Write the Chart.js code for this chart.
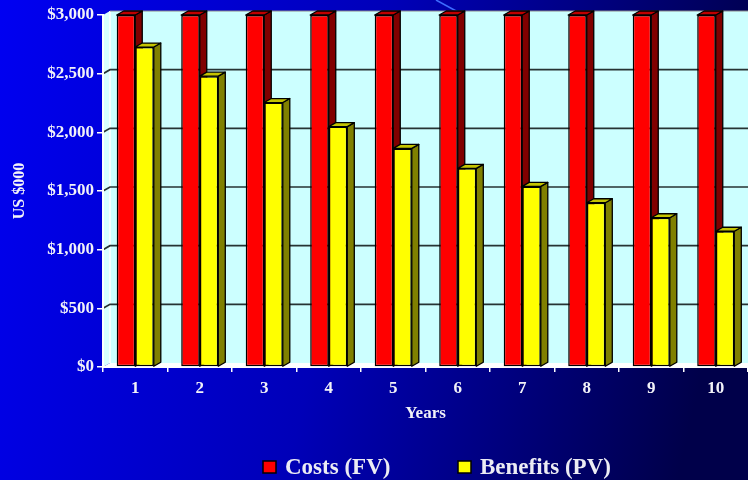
<!DOCTYPE html>
<html>
<head>
<meta charset="utf-8">
<script src="https://cdn.jsdelivr.net/npm/chart.js@4/dist/chart.umd.min.js"></script>
<style>
  html, body { margin: 0; padding: 0; overflow: hidden; background: #0000e0; }
  #wrap { width: 748px; height: 480px; }
  canvas { display: block; }
</style>
</head>
<body>
<div id="wrap"><canvas id="c" width="748" height="480"></canvas></div>
<script>
// Year index on the category axis
const years = ['1', '2', '3', '4', '5', '6', '7', '8', '9', '10'];
// Costs, future value (US $000)
const costsFV = [3000, 3000, 3000, 3000, 3000, 3000, 3000, 3000, 3000, 3000];
// Benefits, present value (US $000)
const benefitsPV = [2727, 2479, 2254, 2049, 1863, 1693, 1539, 1400, 1272, 1157];
// Value axis ticks
const yTickValues = [0, 500, 1000, 1500, 2000, 2500, 3000];
const seriesNames = ['Costs (FV)', 'Benefits (PV)'];
const xTitle = 'Years';
const yTitle = 'US $000';

const SERIF = '"Liberation Serif", "Times New Roman", serif';
const DEPTH_X = 7;     // 3D depth offset, px to the right
const DEPTH_Y = -4;    // 3D depth offset, px upward
const faceShades = [
  { side: '#800000', top: '#bf0000' },
  { side: '#808000', top: '#c4c400' }
];

// Slide background, back wall, side wall, floor and wall gridlines
const stagePlugin = {
  id: 'stage',
  beforeDraw(chart) {
    const { ctx, chartArea: a, scales } = chart;
    const W = chart.width, H = chart.height;
    ctx.save();
    const g = ctx.createLinearGradient(0, 0, W, H * 0.35);
    g.addColorStop(0, '#0000f2');
    g.addColorStop(0.5, '#0000b8');
    g.addColorStop(1, '#00004a');
    ctx.fillStyle = g;
    ctx.fillRect(0, 0, W, H);

    // thin decorative streak across the top
    ctx.strokeStyle = '#3d6cff';
    ctx.lineWidth = 1.5;
    ctx.beginPath();
    ctx.moveTo(436, 0);
    ctx.lineTo(458, 12);
    ctx.stroke();

    const L = a.left, R = a.right, T = a.top, B = a.bottom;
    // back wall
    ctx.fillStyle = '#ccffff';
    ctx.fillRect(L + DEPTH_X, T + DEPTH_Y, R - L, B - T);
    // left side wall
    ctx.fillStyle = '#d9ffff';
    ctx.beginPath();
    ctx.moveTo(L, T);
    ctx.lineTo(L + DEPTH_X, T + DEPTH_Y);
    ctx.lineTo(L + DEPTH_X, B + DEPTH_Y);
    ctx.lineTo(L, B);
    ctx.closePath();
    ctx.fill();
    ctx.strokeStyle = '#ffffff';
    ctx.lineWidth = 1.5;
    ctx.beginPath();
    ctx.moveTo(L + DEPTH_X, T + DEPTH_Y);
    ctx.lineTo(L + DEPTH_X, B + DEPTH_Y);
    ctx.stroke();
    // floor
    ctx.fillStyle = '#ffffff';
    ctx.beginPath();
    ctx.moveTo(L, B);
    ctx.lineTo(L + DEPTH_X, B + DEPTH_Y);
    ctx.lineTo(R + DEPTH_X, B + DEPTH_Y);
    ctx.lineTo(R, B);
    ctx.closePath();
    ctx.fill();
    // top edge of the back wall
    ctx.strokeStyle = '#8a8a8a';
    ctx.lineWidth = 1.2;
    ctx.beginPath();
    ctx.moveTo(L + DEPTH_X, T + DEPTH_Y);
    ctx.lineTo(R + DEPTH_X, T + DEPTH_Y);
    ctx.stroke();
    // gridlines on the back wall, with their slant across the side wall
    const ys = scales.y;
    ctx.strokeStyle = '#263333';
    ctx.lineWidth = 1.7;
    yTickValues.forEach(v => {
      if (v <= ys.min || v >= ys.max) return;
      const py = ys.getPixelForValue(v);
      ctx.beginPath();
      ctx.moveTo(L, py);
      ctx.lineTo(L + DEPTH_X, py + DEPTH_Y);
      ctx.lineTo(R + DEPTH_X, py + DEPTH_Y);
      ctx.stroke();
    });
    ctx.restore();
  }
};

// Side and top faces that give each bar its depth
const depthPlugin = {
  id: 'depth',
  beforeDatasetsDraw(chart) {
    const { ctx } = chart;
    ctx.save();
    ctx.strokeStyle = '#000000';
    ctx.lineWidth = 1.3;
    ctx.lineJoin = 'round';
    chart.data.datasets.forEach((ds, i) => {
      const meta = chart.getDatasetMeta(i);
      if (meta.hidden) return;
      const shade = faceShades[i];
      meta.data.forEach(bar => {
        const { x, y, base, width } = bar.getProps(['x', 'y', 'base', 'width'], true);
        const l = x - width / 2, r = x + width / 2;
        // side face
        ctx.fillStyle = shade.side;
        ctx.beginPath();
        ctx.moveTo(r, y);
        ctx.lineTo(r + DEPTH_X, y + DEPTH_Y);
        ctx.lineTo(r + DEPTH_X, base + DEPTH_Y);
        ctx.lineTo(r, base);
        ctx.closePath();
        ctx.fill();
        ctx.stroke();
        // top face
        ctx.fillStyle = shade.top;
        ctx.beginPath();
        ctx.moveTo(l, y);
        ctx.lineTo(l + DEPTH_X, y + DEPTH_Y);
        ctx.lineTo(r + DEPTH_X, y + DEPTH_Y);
        ctx.lineTo(r, y);
        ctx.closePath();
        ctx.fill();
        ctx.stroke();
      });
    });
    ctx.restore();
  }
};

// Axis titles and the legend row
const labelsPlugin = {
  id: 'labels',
  afterDraw(chart) {
    const { ctx, chartArea: a } = chart;
    ctx.save();
    ctx.fillStyle = '#f2f2f8';
    ctx.textAlign = 'center';
    ctx.textBaseline = 'middle';
    ctx.font = 'bold 17px ' + SERIF;
    ctx.fillText(xTitle, (a.left + a.right) / 2, 414);

    ctx.save();
    ctx.translate(20, 191);
    ctx.rotate(-Math.PI / 2);
    ctx.font = 'bold 16px ' + SERIF;
    ctx.fillText(yTitle, 0, 0);
    ctx.restore();

    // legend
    const itemX = [263, 458];
    ctx.font = 'bold 23px ' + SERIF;
    ctx.textAlign = 'left';
    chart.data.datasets.forEach((ds, i) => {
      const bx = itemX[i];
      ctx.fillStyle = ds.backgroundColor;
      ctx.fillRect(bx, 461, 13, 12);
      ctx.strokeStyle = '#000000';
      ctx.lineWidth = 1.5;
      ctx.strokeRect(bx, 461, 13, 12);
      ctx.fillStyle = '#ececf4';
      ctx.fillText(ds.label, bx + 22, 468);
    });
    ctx.restore();
  }
};

new Chart(document.getElementById('c'), {
  type: 'bar',
  data: {
    labels: years,
    datasets: [
      {
        label: seriesNames[0],
        data: costsFV,
        backgroundColor: '#ff0000',
        borderColor: '#000000',
        borderWidth: 1.5,
        borderSkipped: false
      },
      {
        label: seriesNames[1],
        data: benefitsPV,
        backgroundColor: '#ffff00',
        borderColor: '#000000',
        borderWidth: 1.5,
        borderSkipped: false
      }
    ]
  },
  options: {
    responsive: false,
    animation: false,
    devicePixelRatio: 1,
    categoryPercentage: 0.575,
    barPercentage: 1,
    layout: { padding: { top: 15, right: -2, bottom: 0, left: 0 } },
    plugins: {
      legend: { display: false },
      tooltip: { enabled: false }
    },
    scales: {
      x: {
        afterFit(scale) { scale.height = 113; },
        grid: {
          offset: true,
          drawOnChartArea: false,
          drawTicks: true,
          tickLength: 5,
          color: '#ffffff',
          lineWidth: 1.5
        },
        border: { display: true, color: '#ffffff', width: 2 },
        ticks: {
          color: '#f2f2f8',
          padding: 6,
          font: { family: SERIF, size: 17, weight: 'bold' }
        }
      },
      y: {
        min: 0,
        max: 3000,
        afterFit(scale) { scale.width = 103; },
        afterBuildTicks(scale) { scale.ticks = yTickValues.map(v => ({ value: v })); },
        grid: {
          drawOnChartArea: false,
          drawTicks: true,
          tickLength: 6,
          color: '#ffffff',
          lineWidth: 1.5
        },
        border: { display: true, color: '#ffffff', width: 2 },
        ticks: {
          color: '#f2f2f8',
          padding: 3,
          font: { family: SERIF, size: 17, weight: 'bold' },
          callback: v => '$' + Number(v).toLocaleString('en-US')
        }
      }
    }
  },
  plugins: [stagePlugin, depthPlugin, labelsPlugin]
});
</script>
</body>
</html>
